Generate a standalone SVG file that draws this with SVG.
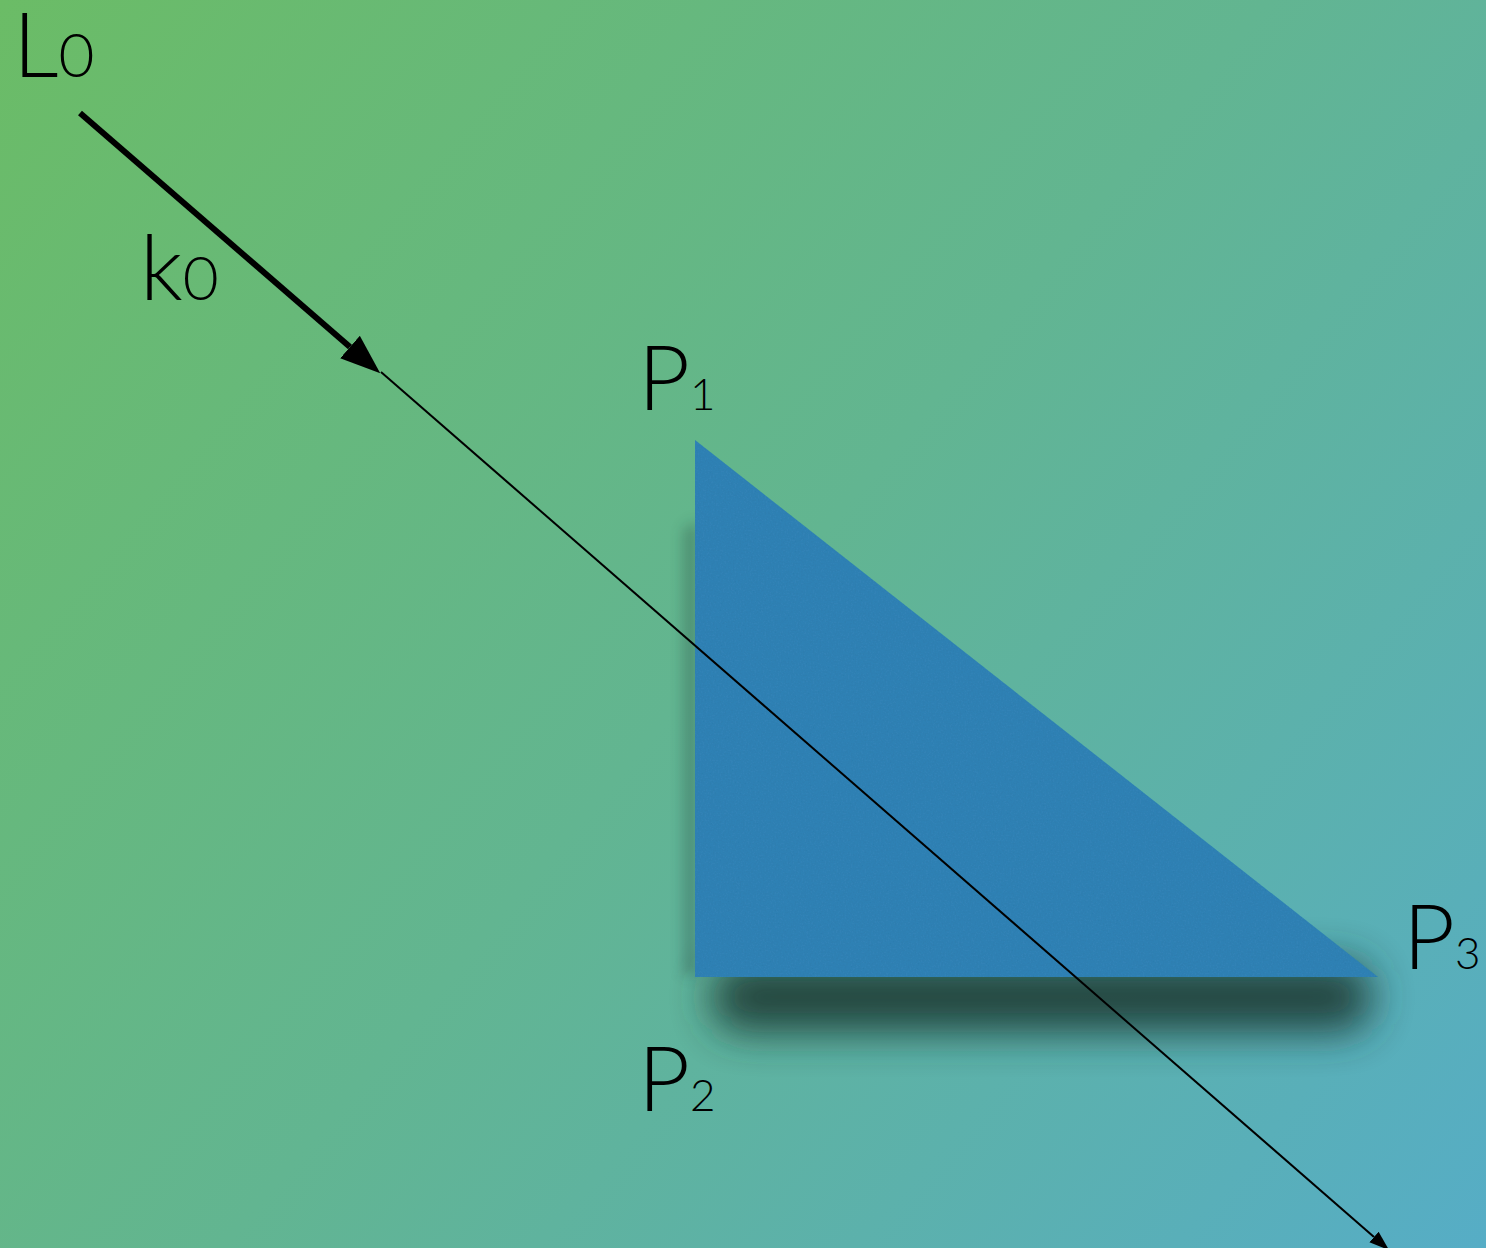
<svg xmlns="http://www.w3.org/2000/svg" width="1486" height="1248" viewBox="0 0 1486 1248">
<style>
.lbl{font-family:"Lato","Liberation Sans",sans-serif;font-weight:300;fill:#000}
.big{font-size:90px}
.sub{font-size:44px}
.sub0{font-size:62px}
</style>
<defs>
<linearGradient id="bg" x1="0" y1="0" x2="1486" y2="1248" gradientUnits="userSpaceOnUse">
<stop offset="0" stop-color="#6bbc66"/>
<stop offset="0.5" stop-color="#62b591"/>
<stop offset="1" stop-color="#56adc6"/>
</linearGradient>
<filter id="blur" x="-20%" y="-100%" width="140%" height="300%"><feGaussianBlur stdDeviation="20"/></filter>
<filter id="blur2" x="-200%" y="-10%" width="500%" height="120%"><feGaussianBlur stdDeviation="7"/></filter>
<filter id="paper" x="0" y="0" width="100%" height="100%">
<feTurbulence type="fractalNoise" baseFrequency="0.6" numOctaves="3" seed="3" result="n"/>
<feColorMatrix in="n" type="matrix" values="0 0 0 0 0  0 0 0 0 0.1  0 0 0 0 0.2  0.25 0 0 0 -0.08" result="w"/>
<feComposite in="w" in2="SourceGraphic" operator="in" result="t"/>
<feMerge><feMergeNode in="SourceGraphic"/><feMergeNode in="t"/></feMerge>
</filter>
<marker id="headBig" markerUnits="userSpaceOnUse" markerWidth="44" markerHeight="34" refX="0" refY="17" orient="auto" viewBox="0 0 44 34">
<path d="M0,2 L40,17 L0,32 z" fill="#000"/>
</marker>
<marker id="headSmall" markerUnits="userSpaceOnUse" markerWidth="22" markerHeight="16" refX="0" refY="8" orient="auto" viewBox="0 0 22 16">
<path d="M0,1 L20,8 L0,15 z" fill="#000"/>
</marker>
</defs>
<rect width="1486" height="1248" fill="url(#bg)"/>

<g id="triangle">
<rect x="712" y="962" width="660" height="70" rx="30" fill="#1c3a36" opacity="0.9" filter="url(#blur)"/>
<polygon points="684,530 697,520 697,975 684,975" fill="#1c3a36" opacity="0.35" filter="url(#blur2)"/>
<polygon points="695,440 695,977 1378,977" fill="#3182b6" filter="url(#paper)"/>
</g>

<g id="connectors">
<line x1="80" y1="113" x2="350" y2="347" stroke="#000" stroke-width="6" marker-end="url(#headBig)"/>
<line x1="381" y1="372" x2="1374" y2="1237" stroke="#000" stroke-width="2" marker-end="url(#headSmall)"/>
</g>

<g id="label-L0"><text class="lbl" x="13" y="77"><tspan class="big">L</tspan><tspan class="sub0">0</tspan></text></g>
<g id="label-k0"><text class="lbl" x="140" y="300"><tspan class="big">k</tspan><tspan class="sub0">0</tspan></text></g>
<g id="label-P1"><text class="lbl" x="638" y="410"><tspan class="big">P</tspan><tspan class="sub">1</tspan></text></g>
<g id="label-P2"><text class="lbl" x="638" y="1111"><tspan class="big">P</tspan><tspan class="sub">2</tspan></text></g>
<g id="label-P3"><text class="lbl" x="1403" y="969"><tspan class="big">P</tspan><tspan class="sub">3</tspan></text></g>
</svg>
